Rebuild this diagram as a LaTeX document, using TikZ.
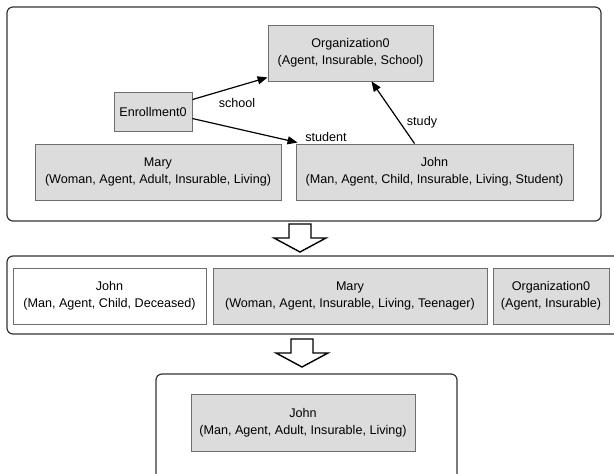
\documentclass[tikz,border=0pt]{standalone}
\usepackage{fontspec}
\setmainfont{Liberation Sans}
\usetikzlibrary{arrows.meta,calc}
\definecolor{boxfill}{HTML}{DCDCDC}
\definecolor{boxline}{HTML}{6E6E6E}
\definecolor{panelline}{HTML}{333333}
\tikzset{
  entity/.style={draw=boxline, fill=boxfill, line width=0.9pt, align=center, inner sep=0pt,
    font=\fontsize{12.6}{17}\selectfont},
  plainentity/.style={entity, fill=white},
  panel/.style={draw=panelline, line width=1.2pt, rounded corners=6pt},
  rel/.style={draw=black, line width=1.2pt, -{Triangle[length=10pt,width=8pt]}},
  lbl/.style={font=\fontsize{12.6}{15}\selectfont, inner sep=0pt},
  hollow/.style={draw=black, fill=white, line width=1.4pt, line join=miter}
}
\begin{document}
\begin{tikzpicture}[x=1pt,y=-1pt]
\useasboundingbox (0,0) rectangle (614,474);
% panels
\draw[panel] (7,7) rectangle (601,221);
\draw[panel] (7,256) rectangle (640,334);
\draw[panel] (156,374) rectangle (457,500);
% top panel nodes
\node[entity, minimum width=165pt, minimum height=56pt] (org) at (350.5,53) {Organization0\\(Agent, Insurable, School)};
\node[entity, minimum width=78pt, minimum height=39pt] (enr) at (153,111.5) {Enrollment0};
\node[entity, minimum width=246pt, minimum height=56pt] (mary) at (158,172) {Mary\\(Woman, Agent, Adult, Insurable, Living)};
\node[entity, minimum width=277pt, minimum height=56pt] (john) at (434.5,172) {John\\(Man, Agent, Child, Insurable, Living, Student)};
% connectors
\draw[rel] ($(enr.north east)+(0,8)$) -- ($(org.south west)+(0,-4)$);
\draw[rel] ($(enr.north east)+(0,27)$) -- ($(john.north west)+(2,-1)$);
\draw[rel] ($(john.north west)+(119,0)$) -- ($(org.south west)+(104,0)$);
\node[lbl] (lschool) at (237,103) {school};
\node[lbl] (lstudent) at (326,137) {student};
\node[lbl] (lstudy) at (422,122) {study};
% hollow arrow 1
\draw[hollow] (289,224) -- (311,224) -- (311,238) -- (326,238) -- (300,252) -- (274,238) -- (289,238) -- cycle;
% second panel nodes
\node[plainentity, minimum width=193pt, minimum height=56pt] (john2) at (109.5,296) {John\\(Man, Agent, Child, Deceased)};
\node[entity, minimum width=274pt, minimum height=56pt] (mary2) at (350,296) {Mary\\(Woman, Agent, Insurable, Living, Teenager)};
\node[entity, minimum width=116pt, minimum height=56pt] (org2) at (551,296) {Organization0\\(Agent, Insurable)};
% hollow arrow 2
\draw[hollow] (291,339) -- (313,339) -- (313,353) -- (328,353) -- (302,367) -- (276,353) -- (291,353) -- cycle;
% third panel node
\node[entity, minimum width=224pt, minimum height=57pt] (john3) at (303,422.5) {John\\(Man, Agent, Adult, Insurable, Living)};
\end{tikzpicture}
\end{document}
